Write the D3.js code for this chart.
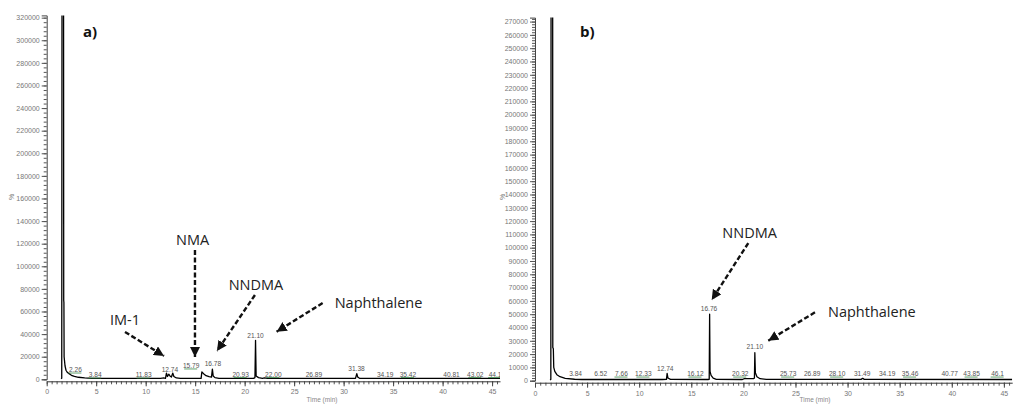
<!DOCTYPE html>
<html>
<head>
<meta charset="utf-8">
<script src="https://cdn.jsdelivr.net/npm/d3@7"></script>
<style>
  body { margin: 0; background: #fff; }
  svg { display: block; }
  .tick text { font-family: "Liberation Sans", Arial, sans-serif; fill: #777; }
  .note { font-family: "Open Sans", sans-serif; fill: #222; }
</style>
</head>
<body>
<div id="chart"></div>
<script>
// trace a) : [time (min), intensity]
var traceA = [
  [1.45, 600], [1.52, 1000], [1.55, 400000], [1.70, 400000], [1.72, 70000], [1.74, 68000],
  [1.76, 20000], [1.85, 12000], [1.95, 8000], [2.1, 6000], [2.26, 5000], [2.5, 3500],
  [2.8, 2500], [3.2, 1800], [3.84, 1200], [4.5, 900], [5.5, 800], [11.5, 800], [11.83, 1200],
  [12.0, 900], [12.1, 5500], [12.2, 2500], [12.35, 4500], [12.45, 3000], [12.6, 2000],
  [12.74, 5500], [12.85, 2500], [13.1, 1200], [13.5, 800], [15.6, 800], [15.68, 6500],
  [15.85, 5000], [16.1, 3200], [16.4, 2300], [16.65, 2000], [16.74, 9000], [16.82, 3000],
  [17.0, 1500], [17.4, 900], [20.9, 800], [21.04, 1500], [21.10, 34500], [21.16, 3000],
  [21.4, 1500], [21.8, 900], [22.0, 1300], [22.3, 800], [31.2, 800], [31.33, 5000],
  [31.42, 2000], [31.6, 900], [45.8, 800]
];

// trace b)
var traceB = [
  [1.45, 600], [1.52, 1000], [1.55, 400000], [1.69, 400000], [1.71, 25000], [1.76, 24000],
  [1.80, 10000], [1.9, 7000], [2.1, 4500], [2.4, 3000], [2.9, 1800], [3.8, 1100], [4.5, 900],
  [12.2, 900], [12.62, 1000], [12.68, 5500], [12.76, 2000], [13.0, 1000], [16.6, 900],
  [16.72, 1000], [16.76, 50000], [16.80, 7000], [16.9, 4000], [17.1, 2000], [17.4, 1000],
  [19.9, 900], [20.1, 1500], [21.0, 1600], [21.06, 2000], [21.10, 21000], [21.15, 6000],
  [21.3, 3000], [21.6, 1500], [22.2, 1000], [31.3, 1000], [31.45, 1800], [31.6, 1000],
  [45.8, 900]
];

// peak labels: [text, time, intensity, integrated]
var labelsA = [
  ["2.26", 2.9, 8200, 1], ["3.84", 4.9, 3800, 1], ["11.83", 9.8, 3800, 1],
  ["12.74", 12.45, 8200, 0], ["15.79", 14.6, 11800, 1], ["16.78", 16.8, 13500, 0],
  ["20.93", 19.6, 4200, 1], ["21.10", 21.1, 38300, 0], ["22.00", 22.9, 4200, 1],
  ["26.89", 27.0, 4200, 0], ["31.38", 31.3, 9100, 0], ["34.19", 34.2, 4200, 0],
  ["35.42", 36.5, 4200, 1], ["40.81", 40.9, 4200, 0], ["43.02", 43.3, 4200, 1],
  ["44.1", 45.3, 4200, 1]
];
var labelsB = [
  ["3.84", 3.9, 5000, 0], ["6.52", 6.3, 5000, 0], ["7.66", 8.3, 5000, 1],
  ["12.33", 10.4, 5000, 1], ["12.74", 12.5, 8800, 0], ["16.12", 15.4, 5000, 1],
  ["16.76", 16.7, 53900, 0], ["20.32", 19.7, 5000, 1], ["21.10", 21.1, 25300, 0],
  ["25.73", 24.3, 5000, 1], ["26.89", 26.6, 5000, 0], ["28.10", 29.0, 5000, 1],
  ["31.49", 31.4, 5000, 0], ["34.19", 33.8, 5000, 0], ["35.46", 36.0, 5000, 1],
  ["40.77", 39.8, 5000, 0], ["43.85", 41.9, 5000, 1], ["46.1", 44.4, 5000, 1]
];

// compound callouts: [name, text time, text intensity, anchor, arrow from t, v, to t, v]
var notesA = [
  ["NMA", 14.75, 123300, "middle", 14.98, 114500, 14.98, 19700],
  ["NNDMA", 21.14, 83500, "middle", 21.04, 74600, 17.2, 25000],
  ["IM-1", 7.91, 52500, "middle", 7.91, 41900, 11.85, 20600],
  ["Naphthalene", 29.1, 67500, "start", 27.88, 67500, 23.23, 42100]
];
var notesB = [
  ["NNDMA", 20.6, 111100, "middle", 20.47, 103500, 16.96, 60700],
  ["Naphthalene", 28.12, 51700, "start", 26.87, 51400, 22.39, 30100]
];

var W = 1013, H = 405;
var svg = d3.select('#chart').append('svg').attr('width', W).attr('height', H);

svg.append('defs').append('marker')
  .attr('id', 'head')
  .attr('viewBox', '0 0 10 10')
  .attr('refX', 10).attr('refY', 5)
  .attr('markerWidth', 4.2).attr('markerHeight', 4.2)
  .attr('markerUnits', 'strokeWidth')
  .attr('orient', 'auto')
  .append('path').attr('d', 'M0,0L10,5L0,10z').attr('fill', '#111');

function panel(cfg) {
  var x = d3.scaleLinear().domain([0, 45.8]).range(cfg.xr);
  var y = d3.scaleLinear().domain([0, cfg.ymax]).range(cfg.yr);
  var g = svg.append('g');

  g.append('clipPath').attr('id', 'clip' + cfg.name)
    .append('rect')
    .attr('x', cfg.xr[0]).attr('y', cfg.yr[1])
    .attr('width', cfg.xr[1] - cfg.xr[0]).attr('height', cfg.yr[0] - cfg.yr[1] + 2);

  // y axis, minor then major
  g.append('g').attr('transform', 'translate(' + cfg.xr[0] + ',0)')
    .call(d3.axisLeft(y).tickValues(d3.range(0, cfg.ymax + 1, cfg.ystep / 5)).tickSize(3).tickFormat(''))
    .call(function(s) { s.select('.domain').remove(); s.selectAll('line').attr('stroke', '#555'); });
  g.append('g').attr('transform', 'translate(' + cfg.xr[0] + ',0)')
    .call(d3.axisLeft(y).tickValues(d3.range(0, cfg.ymax + 1, cfg.ystep)).tickSize(5).tickPadding(2).tickFormat(d3.format('d')))
    .call(function(s) {
      s.select('.domain').attr('stroke', '#444');
      s.selectAll('line').attr('stroke', '#555');
      s.selectAll('text').style('font-size', '7px');
    });

  // x axis
  var xy = cfg.yr[0] + 2;
  g.append('g').attr('transform', 'translate(0,' + xy + ')')
    .call(d3.axisBottom(x).tickValues(d3.range(0, 45.8, 0.5)).tickSize(3).tickFormat(''))
    .call(function(s) { s.select('.domain').remove(); s.selectAll('line').attr('stroke', '#555'); });
  g.append('g').attr('transform', 'translate(0,' + xy + ')')
    .call(d3.axisBottom(x).tickValues(d3.range(0, 46, 5)).tickSize(5).tickPadding(3).tickSizeOuter(0))
    .call(function(s) {
      s.select('.domain').attr('stroke', '#333');
      s.selectAll('line').attr('stroke', '#444');
      s.selectAll('text').style('font-size', '7px');
    });

  g.append('text')
    .attr('x', cfg.timeX).attr('y', 402)
    .attr('text-anchor', 'middle')
    .style('font-family', '"Liberation Sans", Arial, sans-serif')
    .style('font-size', '6.5px').style('fill', '#888')
    .text('Time (min)');

  g.append('text')
    .attr('transform', 'translate(' + cfg.pctX + ',197) rotate(-90)')
    .attr('text-anchor', 'middle')
    .style('font-family', '"Liberation Sans", Arial, sans-serif')
    .style('font-size', '7px').style('fill', '#777')
    .text('%');

  // chromatogram trace
  g.append('path')
    .datum(cfg.trace)
    .attr('clip-path', 'url(#clip' + cfg.name + ')')
    .attr('fill', 'none')
    .attr('stroke', '#000')
    .attr('stroke-width', 1.3)
    .attr('stroke-linejoin', 'round')
    .attr('d', d3.line().x(function(d) { return x(d[0]); }).y(function(d) { return y(d[1]); }));

  // peak labels
  var lab = g.append('g').attr('clip-path', 'url(#clip' + cfg.name + ')')
    .selectAll('g').data(cfg.labels).enter().append('g');
  lab.append('text')
    .attr('x', function(d) { return x(d[1]); })
    .attr('y', function(d) { return y(d[2]); })
    .attr('dy', '0.35em')
    .attr('text-anchor', 'middle')
    .style('font-family', '"Liberation Sans", Arial, sans-serif')
    .style('font-size', '6.6px')
    .style('fill', '#555')
    .text(function(d) { return d[0]; });
  lab.filter(function(d) { return d[3]; }).append('line')
    .attr('x1', function(d) { return x(d[1]) - 7; })
    .attr('x2', function(d) { return x(d[1]) + 6; })
    .attr('y1', function(d) { return y(d[2]) + 3; })
    .attr('y2', function(d) { return y(d[2]) + 3; })
    .attr('stroke', '#3a8a4a').attr('stroke-width', 0.8);

  // callouts
  var n = g.selectAll('.note').data(cfg.notes).enter().append('g');
  n.append('text')
    .attr('class', 'note')
    .attr('x', function(d) { return x(d[1]); })
    .attr('y', function(d) { return y(d[2]); })
    .attr('dy', '0.35em')
    .attr('text-anchor', function(d) { return d[3]; })
    .style('font-size', '14.5px')
    .text(function(d) { return d[0]; });
  n.append('line')
    .attr('x1', function(d) { return x(d[4]); })
    .attr('y1', function(d) { return y(d[5]); })
    .attr('x2', function(d) { return x(d[6]); })
    .attr('y2', function(d) { return y(d[7]); })
    .attr('stroke', '#111')
    .attr('stroke-width', 2.4)
    .attr('stroke-dasharray', '5,2.5')
    .attr('marker-end', 'url(#head)');

  g.append('text')
    .attr('x', cfg.tagX).attr('y', 37)
    .style('font-family', '"Open Sans", sans-serif')
    .style('font-weight', 'bold')
    .style('font-size', '15px')
    .style('fill', '#111')
    .text(cfg.name + ')');
}

panel({ name: 'a', xr: [46.7, 500], yr: [379.3, 15.4], ymax: 322000, ystep: 20000,
  trace: traceA, labels: labelsA, notes: notesA, timeX: 322, pctX: 14, tagX: 83 });
panel({ name: 'b', xr: [535, 1012.2], yr: [380.7, 17.6], ymax: 273000, ystep: 10000,
  trace: traceB, labels: labelsB, notes: notesB, timeX: 815, pctX: 505, tagX: 580 });
</script>
</body>
</html>
